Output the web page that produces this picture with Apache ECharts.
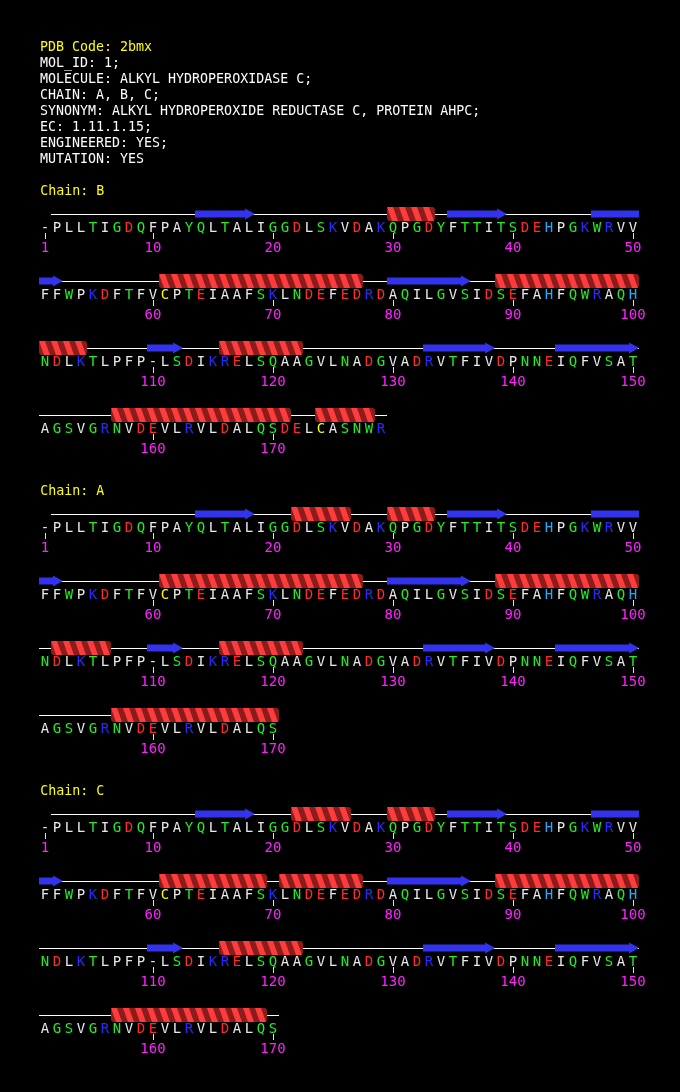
<!DOCTYPE html>
<html>
<head>
<meta charset="utf-8">
<script src="https://cdn.jsdelivr.net/npm/echarts@6/dist/echarts.min.js"></script>
<style>
  html, body { margin: 0; padding: 0; background: #000; }
  #chart { width: 680px; height: 1092px; }
</style>
</head>
<body>
<div id="chart"></div>
<script>
// header lines
const headerLines = [
  'PDB Code: 2bmx',
  'MOL_ID: 1;',
  'MOLECULE: ALKYL HYDROPEROXIDASE C;',
  'CHAIN: A, B, C;',
  'SYNONYM: ALKYL HYDROPEROXIDE REDUCTASE C, PROTEIN AHPC;',
  'EC: 1.11.1.15;',
  'ENGINEERED: YES;',
  'MUTATION: YES'
];

// chain order on the page
const chainNames = ['B', 'A', 'C'];

// sequences (index 0 = residue 1)
const seqB = '-PLLTIGDQFPAYQLTALIGGDLSKVDAKQPGDYFTTITSDEHPGKWRVV' +
  'FFWPKDFTFVCPTEIAAFSKLNDEFEDRDAQILGVSIDSEFAHFQWRAQH' +
  'NDLKTLPFP-LSDIKRELSQAAGVLNADGVADRVTFIVDPNNEIQFVSAT' +
  'AGSVGRNVDEVLRVLDALQSDELCASNWR';
const seqA = seqB.slice(0, 170);
const seqC = seqB.slice(0, 170);

// secondary structure, [first, last] residue index
const helixB = [[29, 32], [60, 76], [88, 103], [115, 121], [156, 170], [173, 177]];
const helixA = [[21, 25], [29, 32], [60, 76], [88, 99], [101, 105], [115, 121], [156, 169]];
const helixC = [[21, 25], [29, 32], [60, 68], [70, 76], [88, 99], [115, 121], [156, 168]];
const strandB = [[13, 17], [34, 38], [46, 51], [79, 85], [109, 111], [132, 137], [143, 149]];
const strandA = strandB;
const strandC = strandB;

const chains = {
  B: { seq: seqB, helix: helixB, strand: strandB },
  A: { seq: seqA, helix: helixA, strand: strandA },
  C: { seq: seqC, helix: helixC, strand: strandC }
};

const PER_ROW = 50;
const CHAIN_TOP = 214;   // y of the first structure line
const CHAIN_GAP = 300;
const ROW_GAP = 67;

function resColor(r) {
  if ('DE'.includes(r)) return '#ff2a2a';
  if ('KR'.includes(r)) return '#2a2aff';
  if (r === 'H') return '#22aaff';
  if (r === 'C') return '#ffff00';
  if ('STNQGWY'.includes(r)) return '#22ee22';
  return '#e8e8e8';
}

// build data for the series
let letterData = [], tickData = [], lineData = [], helixData = [], strandData = [], labelData = [];

chainNames.forEach((name, ci) => {
  const ch = chains[name];
  const top = CHAIN_TOP + ci * CHAIN_GAP;
  const rowY = i => top + Math.floor(i / PER_ROW) * ROW_GAP;
  labelData.push([-0.4, top - 22, 'Chain: ' + name]);
  const len = ch.seq.length;
  for (let i = 0; i < len; i++) {
    letterData.push([i % PER_ROW, rowY(i) + 14, ch.seq[i]]);
    if (i === 0 || (i + 1) % 10 === 0) tickData.push([i % PER_ROW, rowY(i), String(i + 1)]);
  }
  const nRows = Math.ceil(len / PER_ROW);
  for (let r = 0; r < nRows; r++) {
    const s = Math.max(r * PER_ROW, 1), e = Math.min(r * PER_ROW + PER_ROW - 1, len - 1);
    lineData.push([s % PER_ROW - 0.5, e % PER_ROW + 0.5, top + r * ROW_GAP]);
  }
  const split = (list, out) => list.forEach(([s, e]) => {
    let a = s;
    while (a <= e) {
      const rowEnd = Math.floor(a / PER_ROW) * PER_ROW + PER_ROW - 1;
      const b = Math.min(e, rowEnd);
      out.push([a % PER_ROW - 0.5, b % PER_ROW + 0.5, rowY(a), b === e ? 1 : 0]);
      a = b + 1;
    }
  });
  split(ch.helix, helixData);
  split(ch.strand, strandData);
});

const FONT = '14px "DejaVu Sans Mono", monospace';

const chart = echarts.init(document.getElementById('chart'));
chart.setOption({
  backgroundColor: '#000',
  animation: false,
  grid: { left: 0, right: 0, top: 0, bottom: 0 },
  xAxis: { type: 'value', min: -3.75, max: (680 - 45) / 12, show: false },
  yAxis: { type: 'value', min: 0, max: 1092, inverse: true, show: false },
  graphic: headerLines.map((t, i) => ({
    type: 'text', left: 40, top: 41 + i * 16,
    style: { text: t, fill: i === 0 ? '#ffff00' : '#ffffff', font: '13.3px "DejaVu Sans Mono", monospace' }
  })),
  series: [
    {
      type: 'custom', name: 'line', data: lineData,
      renderItem: (params, api) => {
        const p0 = api.coord([api.value(0), api.value(2)]);
        const p1 = api.coord([api.value(1), api.value(2)]);
        return { type: 'line', shape: { x1: p0[0], y1: p0[1] + 0.5, x2: p1[0], y2: p1[1] + 0.5 }, style: { stroke: '#ffffff', lineWidth: 1 } };
      }
    },
    {
      type: 'custom', name: 'strand', data: strandData,
      renderItem: (params, api) => {
        const p0 = api.coord([api.value(0), api.value(2)]);
        const p1 = api.coord([api.value(1), api.value(2)]);
        const y = p0[1], arrow = api.value(3) === 1;
        const hx = arrow ? p1[0] - 10 : p1[0];
        const pts = [[p0[0], y - 3.5], [hx, y - 3.5]];
        if (arrow) pts.push([hx, y - 5.5], [p1[0], y], [hx, y + 5.5]);
        pts.push([hx, y + 3.5], [p0[0], y + 3.5]);
        return { type: 'polygon', shape: { points: pts }, style: { fill: '#3333ee' } };
      }
    },
    {
      type: 'custom', name: 'helix', data: helixData,
      renderItem: (params, api) => {
        const p0 = api.coord([api.value(0), api.value(2)]);
        const p1 = api.coord([api.value(1), api.value(2)]);
        const y = p0[1], t = y - 7, b = y + 7;
        const children = [{ type: 'rect', shape: { x: p0[0], y: t, width: p1[0] - p0[0], height: 14, r: 3 }, style: { fill: '#8c1c1c' } }];
        for (let x = p0[0]; x < p1[0] - 2; x += 12) {
          children.push({
            type: 'polygon',
            shape: { points: [[x, t], [Math.min(x + 6, p1[0]), t], [Math.min(x + 11, p1[0]), b], [Math.min(x + 5, p1[0]), b]] },
            style: { fill: '#ff3c3c' }
          });
        }
        return { type: 'group', children };
      }
    },
    {
      type: 'custom', name: 'letters', data: letterData,
      renderItem: (params, api) => {
        const p = api.coord([api.value(0), api.value(1)]);
        const r = letterData[params.dataIndex][2];
        return { type: 'text', style: { text: r, x: p[0], y: p[1], fill: resColor(r), font: FONT, align: 'center', verticalAlign: 'middle' } };
      }
    },
    {
      type: 'custom', name: 'ticks', data: tickData,
      renderItem: (params, api) => {
        const p = api.coord([api.value(0), api.value(1)]);
        return {
          type: 'group', children: [
            { type: 'line', shape: { x1: p[0] + 0.5, y1: p[1] + 19, x2: p[0] + 0.5, y2: p[1] + 25 }, style: { stroke: '#ffff00', lineWidth: 1 } },
            { type: 'text', style: { text: tickData[params.dataIndex][2], x: p[0], y: p[1] + 34, fill: '#ff22ff', font: FONT, align: 'center', verticalAlign: 'middle' } }
          ]
        };
      }
    },
    {
      type: 'custom', name: 'chainLabel', data: labelData,
      renderItem: (params, api) => {
        const p = api.coord([api.value(0), api.value(1)]);
        return { type: 'text', style: { text: labelData[params.dataIndex][2], x: p[0], y: p[1], fill: '#ffff00', font: '13.3px "DejaVu Sans Mono", monospace', align: 'left', verticalAlign: 'middle' } };
      }
    }
  ]
});
</script>
</body>
</html>
